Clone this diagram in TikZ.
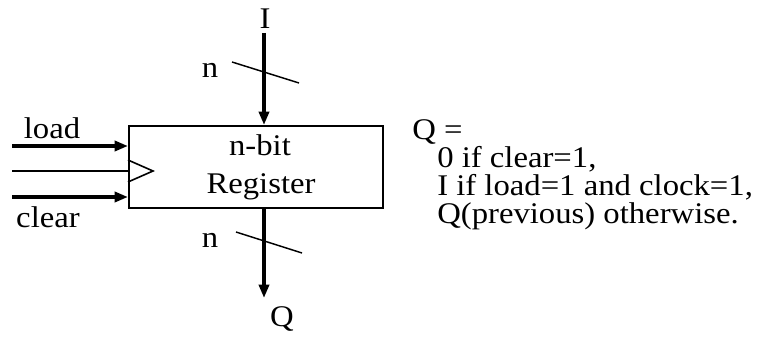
\documentclass[tikz,border=0pt]{standalone}
\usepackage{fontspec}
\setmainfont{Liberation Serif}[FakeStretch=1.09]
\usetikzlibrary{arrows.meta}
\begin{document}
\begin{tikzpicture}[x=0.75pt,y=-0.75pt,
  lbl/.style={font=\fontsize{22.5}{29}\selectfont, inner sep=0pt},
  bus/.style={line width=3pt,-{Triangle[length=10pt,width=7.5pt]}},
  thin/.style={line width=1.4pt},
  slash/.style={line width=1.1pt}]
\useasboundingbox (0,0) rectangle (758,338);
\node[draw, line width=1.3pt, minimum width=254*0.75pt, minimum height=82*0.75pt, inner sep=0pt, anchor=north west] (reg) at (128,125) {};
\node[lbl, anchor=base] (regtxt1) at (260,156) {n-bit};
\node[lbl, anchor=base] (regtxt2) at (261,194) {Register};
% inputs
\coordinate (ls) at (12,146);
\coordinate (cs) at (12,171);
\coordinate (ks) at (12,197);
\draw[bus] (ls) -- (ls -| reg.west);
\draw[thin] (cs) -- (cs -| reg.west);
\draw[bus] (ks) -- (ks -| reg.west);
\coordinate (t1) at (128,160);
\coordinate (t2) at (153,171);
\coordinate (t3) at (128,182);
\draw[line width=1.2pt, line join=miter] (t1) -- (t2) -- (t3);
\node[lbl, anchor=base] (load) at (52,139) {load};
\node[lbl, anchor=base] (clear) at (48,228) {clear};
% top bus
\node[lbl, anchor=base] (I) at (265,29) {I};
\coordinate (itop) at (264,33);
\draw[bus] (itop) -- (itop |- reg.north);
\coordinate (s1a) at (232,62);
\coordinate (s1b) at (299,83);
\draw[slash] (s1a) -- (s1b);
\node[lbl, anchor=base] (n1) at (210,78) {n};
% bottom bus
\coordinate (qtip) at (264,298);
\draw[bus] (reg.south -| qtip) -- (qtip);
\coordinate (s2a) at (236,232);
\coordinate (s2b) at (302,253);
\draw[slash] (s2a) -- (s2b);
\node[lbl, anchor=base] (n2) at (210,248) {n};
\node[lbl, anchor=base] (Q) at (282,327) {Q};
% equation text
\node[lbl, font=\fontsize{22.5}{21}\selectfont, anchor=base west, align=left] (eq) at (412,224)
  {Q =\\
   \hspace*{18.75pt}0 if clear=1,\\
   \hspace*{18.75pt}I if load=1 and clock=1,\\
   \hspace*{18.75pt}Q(previous) otherwise.};
\end{tikzpicture}
\end{document}
